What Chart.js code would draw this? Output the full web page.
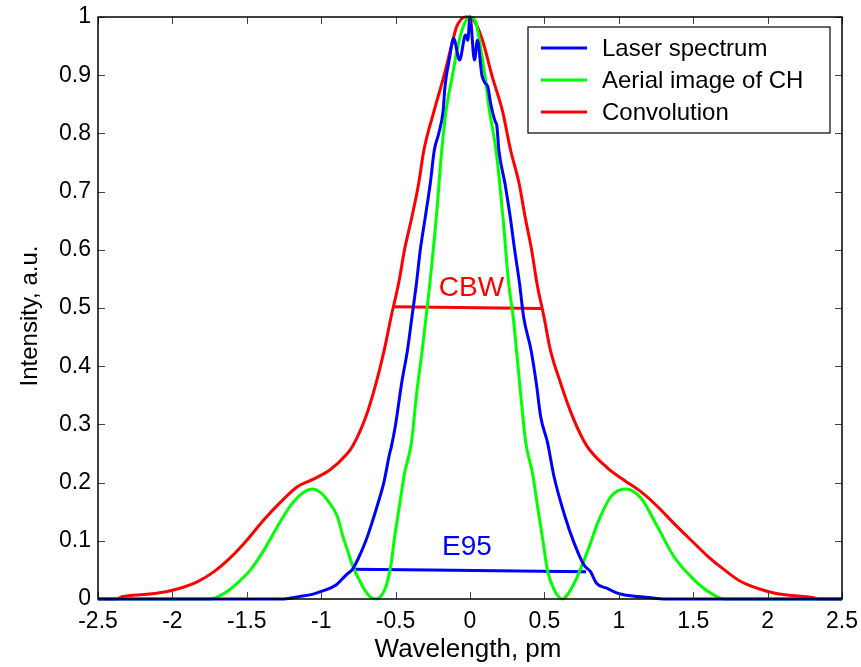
<!DOCTYPE html>
<html><head><meta charset="utf-8">
<script src="https://cdn.jsdelivr.net/npm/chart.js@4.4.0/dist/chart.umd.min.js"></script>
<style>html,body{margin:0;padding:0;background:#fff;} #c{display:block;}</style>
</head><body>
<canvas id="c" width="861" height="667"></canvas>
<script>
// ---- data ----
const laserX = [-2.5,-1.25,-1.15,-1.06,-1.0,-0.9,-0.83,-0.79,-0.75,-0.70,-0.66,-0.625,-0.58,-0.54,-0.53,-0.50,-0.46,-0.42,-0.39,-0.36,-0.334,-0.30,-0.267,-0.24,-0.21,-0.18,-0.17,-0.16,-0.14,-0.11,-0.07,-0.03,-0.015,0.0,0.03,0.05,0.08,0.10,0.12,0.14,0.17,0.18,0.194,0.235,0.27,0.30,0.333,0.36,0.41,0.446,0.475,0.52,0.565,0.632,0.70,0.767,0.81,0.85,0.925,0.99,1.04,1.22,1.3,2.5];
const laserY = [0,0,0.004,0.008,0.013,0.024,0.042,0.051,0.07,0.10,0.13,0.159,0.199,0.25,0.26,0.30,0.37,0.428,0.485,0.542,0.60,0.657,0.714,0.771,0.80,0.84,0.875,0.897,0.926,0.963,0.926,0.969,0.96,1.0,0.926,0.96,0.90,0.887,0.88,0.85,0.82,0.814,0.771,0.714,0.657,0.60,0.542,0.485,0.428,0.37,0.313,0.27,0.21,0.147,0.096,0.058,0.047,0.027,0.018,0.01,0.007,0.002,0,0];

const aerialX = [-2.5,-1.75,-1.65,-1.565,-1.475,-1.385,-1.295,-1.205,-1.115,-1.06,-1.0,-0.947,-0.89,-0.857,-0.825,-0.79,-0.72,-0.68,-0.63,-0.59,-0.565,-0.53,-0.51,-0.475,-0.44,-0.394,-0.36,-0.32,-0.295,-0.27,-0.226,-0.19,-0.16,-0.12,-0.077,-0.037,0,0.04,0.066,0.10,0.13,0.175,0.221,0.26,0.29,0.315,0.345,0.374,0.42,0.454,0.49,0.52,0.565,0.62,0.70,0.767,0.81,0.857,0.947,1.048,1.15,1.26,1.37,1.486,1.6,1.71,2.5];
const aerialY = [0,0,0.01,0.027,0.05,0.084,0.124,0.161,0.184,0.189,0.182,0.166,0.141,0.11,0.085,0.058,0.021,0.006,0,0.008,0.021,0.061,0.10,0.159,0.216,0.268,0.35,0.43,0.485,0.542,0.657,0.771,0.84,0.897,0.955,0.989,1.0,0.99,0.955,0.90,0.84,0.771,0.657,0.542,0.485,0.42,0.34,0.27,0.216,0.159,0.10,0.05,0.016,0,0.027,0.067,0.096,0.13,0.176,0.189,0.173,0.124,0.073,0.038,0.013,0,0];

const convX = [-2.5,-2.37,-2.34,-2.17,-2.0,-1.83,-1.72,-1.61,-1.51,-1.385,-1.275,-1.16,-1.06,-0.94,-0.835,-0.79,-0.70,-0.632,-0.576,-0.53,-0.48,-0.44,-0.39,-0.345,-0.31,-0.24,-0.177,-0.12,-0.09,-0.03,0.0,0.05,0.09,0.15,0.217,0.273,0.33,0.37,0.414,0.45,0.497,0.54,0.61,0.69,0.785,0.925,1.036,1.15,1.26,1.37,1.486,1.6,1.71,1.82,1.935,2.05,2.16,2.29,2.35,2.5];
const convY = [0,0,0.004,0.008,0.015,0.03,0.047,0.071,0.098,0.136,0.166,0.193,0.205,0.222,0.247,0.262,0.313,0.37,0.428,0.485,0.542,0.60,0.657,0.714,0.771,0.84,0.897,0.955,0.983,1.0,1.0,0.983,0.955,0.897,0.84,0.771,0.714,0.657,0.60,0.542,0.485,0.428,0.37,0.313,0.263,0.225,0.204,0.184,0.159,0.13,0.101,0.073,0.05,0.03,0.018,0.01,0.006,0.003,0,0];

const cbwX = [-0.51, 0.48];
const cbwY = [0.502, 0.499];
const e95X = [-0.79, 0.78];
const e95Y = [0.051, 0.047];

const noteText = ['CBW', 'E95'];
const noteX = [0.01, -0.02];
const noteY = [0.534, 0.089];

const seriesNames = ['Laser spectrum', 'Aerial image of CH', 'Convolution'];
const xTickMin = -2.5, xTickMax = 2.5, xTickStep = 0.5;
const yTickMin = 0, yTickMax = 1, yTickStep = 0.1;
const xTitle = 'Wavelength, pm';
const yTitle = 'Intensity, a.u.';

// ---- chart ----
const FONT = '"Liberation Sans", Arial, Helvetica, sans-serif';
const BLUE = '#0000ff', GREEN = '#00ff00', RED = '#ff0000';
const pts = (xs, ys) => xs.map((x, i) => ({x: x, y: ys[i]}));
const line = (label, xs, ys, color, legend) => ({
  label: label, data: pts(xs, ys), borderColor: color, backgroundColor: color,
  borderWidth: 3, pointRadius: 0, cubicInterpolationMode: 'monotone', fill: false, inLegend: legend, clip: 4
});
const fmt = v => String(Math.round(v * 10) / 10);

const decor = {
  id: 'decor',
  afterDatasetsDraw(chart) {
    const ctx = chart.ctx, a = chart.chartArea, xs = chart.scales.x, ys = chart.scales.y;
    ctx.save();
    // annotation labels
    ctx.font = '28px ' + FONT;
    ctx.textAlign = 'center'; ctx.textBaseline = 'middle';
    const noteColors = [RED, BLUE];
    noteText.forEach((t, i) => {
      ctx.fillStyle = noteColors[i];
      ctx.fillText(t, xs.getPixelForValue(noteX[i]), ys.getPixelForValue(noteY[i]));
    });
    // inward ticks
    ctx.strokeStyle = '#444'; ctx.lineWidth = 1;
    const tl = 7;
    ctx.beginPath();
    xs.ticks.forEach(t => {
      const p = Math.round(xs.getPixelForValue(t.value)) + 0.5;
      ctx.moveTo(p, a.bottom); ctx.lineTo(p, a.bottom - tl);
      ctx.moveTo(p, a.top); ctx.lineTo(p, a.top + tl);
    });
    ys.ticks.forEach(t => {
      const p = Math.round(ys.getPixelForValue(t.value)) + 0.5;
      ctx.moveTo(a.left, p); ctx.lineTo(a.left + tl, p);
      ctx.moveTo(a.right, p); ctx.lineTo(a.right - tl, p);
    });
    ctx.stroke();
    // box
    ctx.strokeStyle = '#000'; ctx.lineWidth = 1.5;
    ctx.strokeRect(a.left, a.top, a.right - a.left, a.bottom - a.top);
    // legend
    const bx = a.right - 314, by = a.top + 10, bw = 302, bh = 106;
    ctx.fillStyle = '#fff';
    ctx.fillRect(bx, by, bw, bh);
    ctx.strokeStyle = '#000'; ctx.lineWidth = 1.2;
    ctx.strokeRect(bx, by, bw, bh);
    ctx.font = '24px ' + FONT;
    ctx.textAlign = 'left'; ctx.textBaseline = 'middle';
    let row = 0;
    chart.data.datasets.forEach(ds => {
      if (!ds.inLegend) return;
      const yy = by + 21 + row * 32;
      ctx.strokeStyle = ds.borderColor; ctx.lineWidth = 3;
      ctx.beginPath(); ctx.moveTo(bx + 13, yy); ctx.lineTo(bx + 59, yy); ctx.stroke();
      ctx.fillStyle = '#000';
      ctx.fillText(ds.label, bx + 74, yy + 1);
      row++;
    });
    // axis titles
    ctx.fillStyle = '#000';
    ctx.font = '26px ' + FONT;
    ctx.textAlign = 'center'; ctx.textBaseline = 'middle';
    ctx.fillText(xTitle, (a.left + a.right) / 2 - 2, 650);
    ctx.save();
    ctx.translate(30, 316);
    ctx.rotate(-Math.PI / 2);
    ctx.font = '24px ' + FONT;
    ctx.fillText(yTitle, 0, 0);
    ctx.restore();
    ctx.restore();
  }
};

new Chart(document.getElementById('c'), {
  type: 'line',
  data: {
    datasets: [
      line(seriesNames[0], laserX, laserY, BLUE, true),
      line(seriesNames[1], aerialX, aerialY, GREEN, true),
      line(seriesNames[2], convX, convY, RED, true),
      line('CBW', cbwX, cbwY, RED, false),
      line('E95', e95X, e95Y, BLUE, false)
    ]
  },
  options: {
    responsive: false, animation: false, devicePixelRatio: 1,
    layout: {padding: {left: 0, right: 19, top: 17, bottom: 0}},
    plugins: {legend: {display: false}, tooltip: {enabled: false}},
    scales: {
      x: {
        type: 'linear', min: xTickMin, max: xTickMax,
        grid: {display: false, drawTicks: false}, border: {display: false},
        ticks: {stepSize: xTickStep, color: '#000', font: {family: FONT, size: 23}, padding: 9, maxRotation: 0, autoSkip: false, callback: fmt},
        afterFit: s => { s.height = 68; s.paddingLeft = 0; s.paddingRight = 0; }
      },
      y: {
        type: 'linear', min: yTickMin, max: yTickMax,
        grid: {display: false, drawTicks: false}, border: {display: false},
        ticks: {stepSize: yTickStep, color: '#000', font: {family: FONT, size: 23}, padding: 7, autoSkip: false, callback: fmt},
        afterFit: s => { s.width = 98; s.paddingTop = 0; s.paddingBottom = 0; }
      }
    }
  },
  plugins: [decor]
});
</script>
</body></html>
